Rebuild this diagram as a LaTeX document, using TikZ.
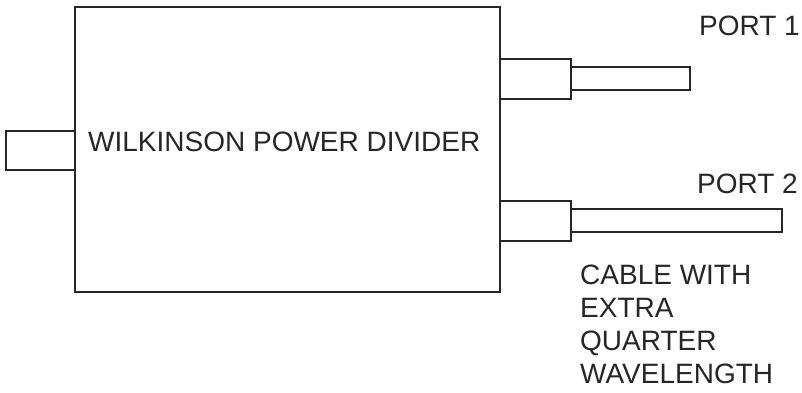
\documentclass[tikz,border=0pt]{standalone}
\usepackage{fontspec}
\setmainfont{Liberation Sans}
\begin{document}
\begin{tikzpicture}[x=1pt,y=-1pt,
  part/.style={draw=black!85,line width=1.4pt,fill=white},
  lbl/.style={inner sep=0pt,anchor=base west,font=\fontsize{28}{34.5}\selectfont,text=black!85}]
\useasboundingbox (0,0) rectangle (802,392);
% main divider box
\draw[part] (75,7) rectangle (500,292);
\node[lbl] (title) at (88,151) {WILKINSON POWER DIVIDER};
% input stub
\draw[part] (6,131) rectangle (75,170);
% port 1 connector and cable
\draw[part] (500,59) rectangle (571,99);
\draw[part] (571,67) rectangle (690,90);
\node[lbl] (p1) at (699,35) {PORT 1};
% port 2 connector and cable
\draw[part] (500,201) rectangle (571,241);
\draw[part] (571,209) rectangle (782,232);
\node[lbl] (p2) at (697,193) {PORT 2};
% cable note
\node[lbl] (cab1) at (580,284) {CABLE WITH};
\node[lbl] (cab2) at (580,317) {EXTRA};
\node[lbl] (cab3) at (580,350) {QUARTER};
\node[lbl] (cab4) at (580,383) {WAVELENGTH};
\end{tikzpicture}
\end{document}
